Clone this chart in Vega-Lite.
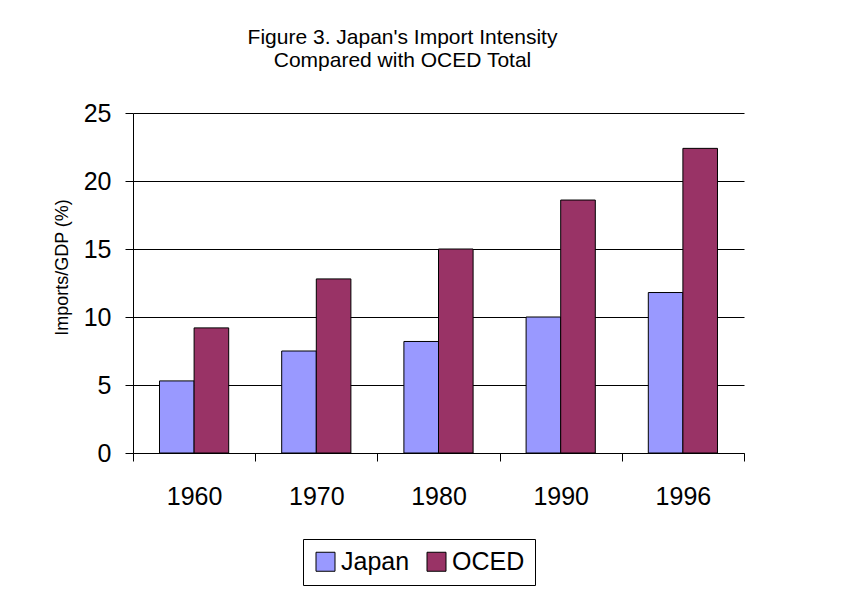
{
  "$schema": "https://vega.github.io/schema/vega-lite/v6.json",
  "autosize": {"type": "none"},
  "width": 611,
  "height": 340,
  "padding": {"left": 133, "top": 113, "right": 108, "bottom": 137},
  "background": "white",
  "config": {"view": {"stroke": null}, "font": "Liberation Sans"},
  "title": {
    "text": ["Figure 3. Japan's Import Intensity", "Compared with OCED Total"],
    "fontSize": 21,
    "fontWeight": "normal",
    "font": "Liberation Sans",
    "color": "black",
    "anchor": "middle",
    "frame": "group",
    "dx": -36,
    "lineHeight": 23,
    "offset": 30
  },
  "data": {
    "values": [
      {"year": "1960", "series": "Japan", "value": 5.3},
      {"year": "1960", "series": "OCED", "value": 9.2},
      {"year": "1970", "series": "Japan", "value": 7.5},
      {"year": "1970", "series": "OCED", "value": 12.8},
      {"year": "1980", "series": "Japan", "value": 8.2},
      {"year": "1980", "series": "OCED", "value": 15.0},
      {"year": "1990", "series": "Japan", "value": 10.0},
      {"year": "1990", "series": "OCED", "value": 18.6},
      {"year": "1996", "series": "Japan", "value": 11.8},
      {"year": "1996", "series": "OCED", "value": 22.4}
    ]
  },
  "mark": {"type": "bar", "stroke": "black", "strokeWidth": 1},
  "encoding": {
    "x": {
      "field": "year",
      "type": "nominal",
      "scale": {"paddingInner": 0, "paddingOuter": 0},
      "axis": {
        "title": null,
        "labelAngle": 0,
        "labelFontSize": 25,
        "labelColor": "black",
        "domainColor": "black",
        "tickColor": "black",
        "tickSize": 8,
        "tickBand": "extent",
        "labelPadding": 23,
        "grid": false
      }
    },
    "xOffset": {
      "field": "series",
      "sort": ["Japan", "OCED"],
      "scale": {"paddingInner": 0, "paddingOuter": 0.766}
    },
    "y": {
      "field": "value",
      "type": "quantitative",
      "scale": {"domain": [0, 25]},
      "axis": {
        "title": "Imports/GDP (%)",
        "values": [0, 5, 10, 15, 20, 25],
        "titleFontSize": 18,
        "titleFontWeight": "normal",
        "titleColor": "black",
        "titleY": 154,
        "labelFontSize": 25,
        "labelColor": "black",
        "tickSize": 8,
        "labelPadding": 14,
        "gridColor": "black",
        "gridOpacity": 1,
        "domainColor": "black",
        "tickColor": "black",
        "titlePadding": 12
      }
    },
    "color": {
      "field": "series",
      "type": "nominal",
      "scale": {"domain": ["Japan", "OCED"], "range": ["#9999FF", "#993366"]},
      "legend": {
        "title": null,
        "orient": "none",
        "legendX": 170,
        "legendY": 426,
        "direction": "horizontal",
        "symbolType": "square",
        "symbolSize": 361,
        "symbolStrokeColor": "black",
        "symbolStrokeWidth": 1,
        "symbolOpacity": 1,
        "labelFontSize": 25,
        "labelColor": "black",
        "strokeColor": "black",
        "padding": 10,
        "columnPadding": 14,
        "labelOffset": 3
      }
    }
  }
}
